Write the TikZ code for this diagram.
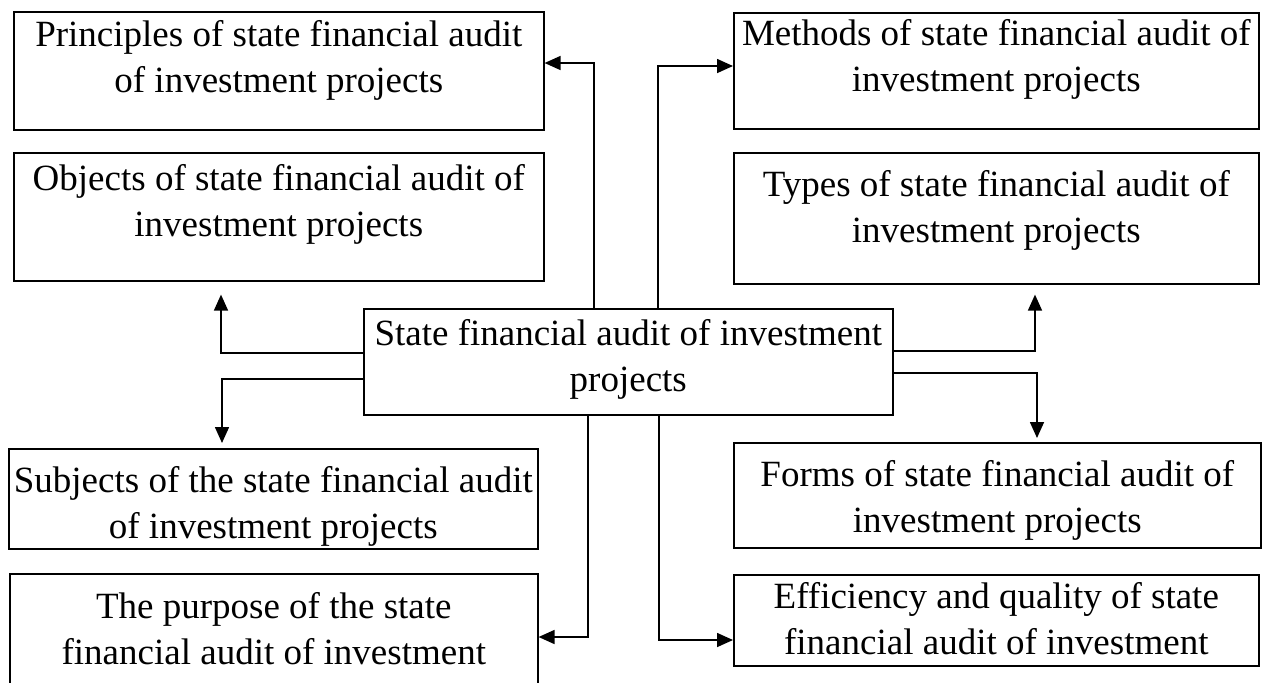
\documentclass[tikz,border=0pt]{standalone}
\usepackage{fontspec}
\setmainfont{Liberation Serif}
\usepackage{tikz}
\usetikzlibrary{arrows.meta}

\tikzset{
  box/.style={draw, line width=0.8pt, inner sep=0pt, align=center, anchor=north west},
  conn/.style={line width=0.8pt, -{Triangle[length=8pt, width=7pt]}}
}

\begin{document}
\begin{tikzpicture}[x=0.5pt, y=-0.5pt, font=\fontsize{18.5}{23}\selectfont]
     \useasboundingbox (0,0) rectangle (1266,682);

     % centre
     \node[box, minimum width=264.5pt, text height=41.5pt, text depth=11.5pt] (centre) at (363,308)
          {State financial audit of investment\\projects};

     % left column
     \node[box, minimum width=265pt, text height=40.5pt, text depth=18.5pt] (princ) at (13,11)
          {Principles of state financial audit\\of investment projects};
     \node[box, minimum width=265pt, text height=42pt, text depth=22pt] (objects) at (13,152)
          {Objects of state financial audit of\\investment projects};
     \node[box, minimum width=264.5pt, text height=45pt, text depth=5pt] (subjects) at (8,448)
          {Subjects of the state financial audit\\of investment projects};
     \node[box, minimum width=264pt, text height=45.5pt, text depth=28pt] (purpose) at (9,573)
          {The purpose of the state\\financial audit of investment};

     % right column
     \node[box, minimum width=262.5pt, text height=39.5pt, text depth=18.5pt] (methods) at (733,12)
          {Methods of state financial audit of\\investment projects};
     \node[box, minimum width=262.5pt, text height=45pt, text depth=20.5pt] (types) at (733,152)
          {Types of state financial audit of\\investment projects};
     \node[box, minimum width=263.5pt, text height=45pt, text depth=7.5pt] (forms) at (733,442)
          {Forms of state financial audit of\\investment projects};
     \node[box, minimum width=262.5pt, text height=40pt, text depth=5.5pt] (efficiency) at (733,574)
          {Efficiency and quality of state\\financial audit of investment};

     % arrows out of the centre
     \draw[conn] (centre.north -| 594,0) |- (princ.east |- 0,63);
     \draw[conn] (centre.north -| 658,0) |- (methods.west |- 0,66);
     \draw[conn] (centre.west |- 0,353) -| ([yshift=-6.5pt]objects.south -| 221,0);
     \draw[conn] (centre.east |- 0,351) -| ([yshift=-5pt]types.south -| 1035,0);
     \draw[conn] (centre.west |- 0,379) -| ([yshift=2.5pt]subjects.north -| 222,0);
     \draw[conn] (centre.east |- 0,373) -| ([yshift=2pt]forms.north -| 1037,0);
     \draw[conn] (centre.south -| 588,0) |- (purpose.east |- 0,637);
     \draw[conn] (centre.south -| 659,0) |- (efficiency.west |- 0,640);
\end{tikzpicture}
\end{document}
